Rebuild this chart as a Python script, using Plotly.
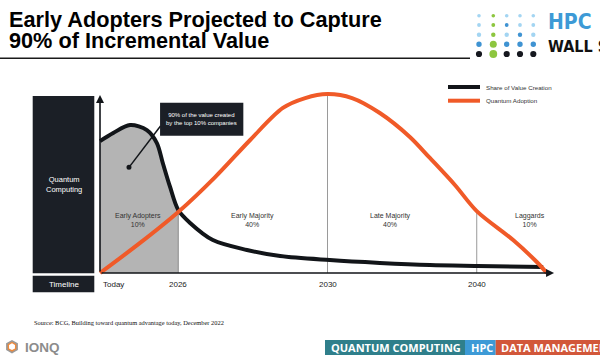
import plotly.graph_objects as go

# ---------------- data (abstract timeline units 0-100, value units 0-100) -------------
share_x = [0, 2.9, 6.6, 10.3, 12.5, 13.8, 15.4, 17.2, 19.8, 24.8, 32.3, 39.6, 50.5, 61.5, 72.5, 82.9, 97.4]
share_y = [73.3, 77.8, 82.2, 79.4, 72.2, 61.1, 47.8, 35.0, 27.8, 18.3, 12.8, 9.4, 7.2, 5.6, 4.4, 3.9, 3.3]

adopt_x = [0, 8.8, 17.2, 25.3, 33.0, 40.2, 45.1, 50.0, 55.4, 61.5, 68.1, 72.5, 78.0, 82.8, 90.8, 96.0, 98.2]
adopt_y = [0, 16.7, 33.9, 53.3, 73.9, 91.7, 97.2, 99.4, 97.2, 88.9, 75.6, 63.9, 48.9, 34.4, 18.3, 6.1, 0]

timeline_labels = ["Today", "2026", "2030", "2040"]
timeline_x = [0, 17.2, 50.0, 82.8]

phase_labels = ["Early Adopters<br>10%", "Early Majority<br>40%", "Late Majority<br>40%", "Laggards<br>10%"]
phase_label_x = [8.4, 33.6, 63.9, 94.5]
phase_label_y = 29.4

series_names = ["Share of Value Creation", "Quantum Adoption"]
callout_text = "90% of the value created<br>by the top 10% companies"

# ---------------- styling -------------
W, H = 600, 361
BLACK = "#121519"
ORANGE = "#f05a28"
GREY_FILL = "#b4b4b4"
DARK_BOX = "#1b1f26"
FONT = "Liberation Sans, Arial, sans-serif"


def px(x):
    return x / W


def py(y):
    return 1 - y / H


fig = go.Figure()

# grey fill under value curve (early adopters)
n_fill = share_x.index(17.2) + 1
fig.add_trace(go.Scatter(
    x=share_x[:n_fill], y=share_y[:n_fill], mode="lines",
    line=dict(width=0, shape="spline", color=GREY_FILL),
    fill="tozeroy", fillcolor=GREY_FILL, hoverinfo="skip", showlegend=False))

# phase boundary lines
for bx in timeline_x[1:]:
    if bx == 17.2:
        top = share_y[share_x.index(bx)]
        col = "#8a8a8a"
    else:
        top = adopt_y[adopt_x.index(bx)]
        col = "#9a9a9a"
    fig.add_trace(go.Scatter(x=[bx, bx], y=[0, top], mode="lines",
                             line=dict(color=col, width=1), hoverinfo="skip", showlegend=False))

fig.add_trace(go.Scatter(x=share_x, y=share_y, mode="lines", name=series_names[0],
                         line=dict(color=BLACK, width=4, shape="spline", smoothing=0.9),
                         showlegend=False))
fig.add_trace(go.Scatter(x=adopt_x, y=adopt_y, mode="lines", name=series_names[1],
                         line=dict(color=ORANGE, width=4, shape="spline", smoothing=0.9),
                         showlegend=False))

shapes = []
annotations = []

# title
annotations.append(dict(x=px(6.5), y=py(19.5), xref="paper", yref="paper", xanchor="left", yanchor="middle",
                        text="<b>Early Adopters Projected to Capture</b>", showarrow=False,
                        font=dict(family=FONT, size=21.7, color="#000")))
annotations.append(dict(x=px(6.5), y=py(40.5), xref="paper", yref="paper", xanchor="left", yanchor="middle",
                        text="<b>90% of Incremental Value</b>", showarrow=False,
                        font=dict(family=FONT, size=21.7, color="#000")))
shapes.append(dict(type="line", xref="paper", yref="paper", x0=0, x1=px(470), y0=py(58.3), y1=py(58.3),
                   line=dict(color="#1a1a1a", width=1.5)))

# HPC Wall Street logo
dot_cols = [479, 493.3, 506.7, 520, 533.3]
dot_rows = [15.7, 25, 34.7, 44.3, 54]
LB, GR, MB, BK = "#a3d5f2", "#8dc63f", "#3f93d2", "#16181f"
dot_colors = [
    [LB, GR, LB, LB, LB],
    [LB, GR, MB, LB, LB],
    [LB, GR, LB, MB, LB],
    [MB, GR, MB, MB, MB],
    [BK, GR, BK, BK, BK],
]
dot_sizes = [3.6, 3.8, 4.4, 5.4, 6.2]
for ri, ry in enumerate(dot_rows):
    for ci, cx in enumerate(dot_cols):
        r = dot_sizes[ri] / 2
        if ci == 1 and ri >= 3:
            r += 0.8
        shapes.append(dict(type="circle", xref="paper", yref="paper",
                           x0=px(cx - r), x1=px(cx + r), y0=py(ry + r), y1=py(ry - r),
                           fillcolor=dot_colors[ri][ci], line=dict(width=0)))
annotations.append(dict(x=px(546), y=py(22), xref="paper", yref="paper", xanchor="left", yanchor="middle",
                        text="<b>HPC</b>", showarrow=False,
                        font=dict(family="DejaVu Sans Condensed, DejaVu Sans", size=21, color="#3d9ad6")))
annotations.append(dict(x=px(546), y=py(47), xref="paper", yref="paper", xanchor="left", yanchor="middle",
                        text="<b>WALL ST</b>", showarrow=False,
                        font=dict(family="DejaVu Sans Condensed, DejaVu Sans", size=16, color="#111")))

# left label boxes
shapes.append(dict(type="rect", xref="paper", yref="paper", x0=px(32.7), x1=px(94.3), y0=py(273.3), y1=py(96),
                   fillcolor=DARK_BOX, line=dict(width=0)))
shapes.append(dict(type="rect", xref="paper", yref="paper", x0=px(32.7), x1=px(94.3), y0=py(292.3), y1=py(275.7),
                   fillcolor=DARK_BOX, line=dict(width=0)))
annotations.append(dict(x=px(63.5), y=py(184.5), xref="paper", yref="paper", text="Quantum<br>Computing",
                        xanchor="center", yanchor="middle",
                        showarrow=False, font=dict(family=FONT, size=7.5, color="#fff")))
annotations.append(dict(x=px(63.5), y=py(284), xref="paper", yref="paper", text="Timeline",
                        xanchor="center", yanchor="middle",
                        showarrow=False, font=dict(family=FONT, size=8, color="#fff")))

# axes arrows
annotations.append(dict(x=0, y=98.9, ax=0, ay=0, xref="x", yref="y", axref="x", ayref="y", text="",
                        showarrow=True, arrowhead=2, arrowsize=1, arrowwidth=1.6, arrowcolor=BLACK))
annotations.append(dict(x=99.8, y=0, ax=0, ay=0, xref="x", yref="y", axref="x", ayref="y", text="",
                        showarrow=True, arrowhead=2, arrowsize=1, arrowwidth=1.6, arrowcolor=BLACK))

# timeline labels
for lbl, tx in zip(timeline_labels, timeline_x):
    annotations.append(dict(x=tx, y=py(284.5), xref="x", yref="paper", text=lbl, showarrow=False,
                            xanchor="left" if lbl == "Today" else "center", yanchor="middle",
                            xshift=1 if lbl == "Today" else 0,
                            font=dict(family=FONT, size=8, color="#222")))

# phase labels
for lbl, lx in zip(phase_labels, phase_label_x):
    annotations.append(dict(x=lx, y=phase_label_y, xref="x", yref="y", text=lbl, showarrow=False,
                            xanchor="center", yanchor="middle",
                            font=dict(family=FONT, size=7, color="#333")))

# callout
shapes.append(dict(type="line", xref="x", yref="y", x0=6.37, y0=58.7, x1=13.3, y1=81.7,
                   line=dict(color=BLACK, width=1.5)))
shapes.append(dict(type="circle", xref="x", yref="y", x0=6.37 - 0.55, x1=6.37 + 0.55, y0=58.7 - 1.4,
                   y1=58.7 + 1.4, fillcolor=BLACK, line=dict(width=0)))
shapes.append(dict(type="rect", xref="x", yref="y", x0=13.2, x1=31.5, y0=76.3, y1=94.6,
                   fillcolor=DARK_BOX, line=dict(width=0)))
annotations.append(dict(x=22.35, y=85.4, xref="x", yref="y", text=callout_text, showarrow=False,
                        xanchor="center", yanchor="middle",
                        font=dict(family=FONT, size=6, color="#fff")))

# legend (manual)
leg_y = [87, 100.7]
leg_col = [BLACK, ORANGE]
for name, ly, lc in zip(series_names, leg_y, leg_col):
    shapes.append(dict(type="line", xref="paper", yref="paper", x0=px(448), x1=px(480), y0=py(ly), y1=py(ly),
                       line=dict(color=lc, width=4)))
    annotations.append(dict(x=px(484), y=py(ly), xref="paper", yref="paper", xanchor="left", yanchor="middle",
                            text=name, showarrow=False, font=dict(family=FONT, size=6.2, color="#333")))

# source
annotations.append(dict(x=px(31.5), y=py(322.3), xref="paper", yref="paper", xanchor="left", yanchor="middle",
                        text="Source: BCG, Building toward quantum advantage today, December 2022", showarrow=False,
                        font=dict(family="Liberation Serif, Times New Roman, serif", size=6.4, color="#111")))

# IONQ logo
hx, hy, hr = 12, 346.7, 6.8
def hexpath(cx, cy, r):
    pts = [(cx, cy - r), (cx + 0.87 * r, cy - 0.5 * r), (cx + 0.87 * r, cy + 0.5 * r),
           (cx, cy + r), (cx - 0.87 * r, cy + 0.5 * r), (cx - 0.87 * r, cy - 0.5 * r)]
    return "M " + " L ".join(f"{px(a):.5f},{py(b):.5f}" for a, b in pts) + " Z"
shapes.append(dict(type="path", xref="paper", yref="paper", path=hexpath(hx, hy, hr),
                   fillcolor="#9a9a9a", line=dict(width=0)))
shapes.append(dict(type="path", xref="paper", yref="paper", path=hexpath(hx, hy, hr - 1.8),
                   fillcolor="#ee8a3c", line=dict(width=0)))
shapes.append(dict(type="path", xref="paper", yref="paper", path=hexpath(hx, hy, hr - 3.4),
                   fillcolor="#ffffff", line=dict(width=0)))
annotations.append(dict(x=px(22.5), y=py(347), xref="paper", yref="paper", xanchor="left", yanchor="middle",
                        text="<b>IONQ</b>", showarrow=False,
                        font=dict(family=FONT, size=13.5, color="#8c8c8c")))

# bottom banner
banner = [("QUANTUM COMPUTING", 325, 465, "#2f7f8b"), ("HPC", 465, 495.7, "#3d9ad6"),
          ("DATA MANAGEMENT", 495.7, 680, "#d2573a")]
for txt, x0, x1, col in banner:
    shapes.append(dict(type="rect", xref="paper", yref="paper", x0=px(x0), x1=px(x1), y0=py(355), y1=py(340),
                       fillcolor=col, line=dict(width=0)))
    annotations.append(dict(x=px(x0 + 3.5), y=py(347.5), xref="paper", yref="paper", xanchor="left",
                            yanchor="middle", text=f"<b>{txt}</b>", showarrow=False,
                            font=dict(family="Open Sans, sans-serif", size=11, color="#fff")))

fig.update_layout(
    width=W, height=H, autosize=False,
    margin=dict(l=0, r=0, t=0, b=0),
    paper_bgcolor="#ffffff", plot_bgcolor="rgba(0,0,0,0)",
    xaxis=dict(domain=[90.9 / W, 564.1 / W], range=[-2, 102], visible=False, fixedrange=True),
    yaxis=dict(domain=[1 - 278.4 / H, 1 - 91.2 / H], range=[-3, 101], visible=False, fixedrange=True),
    shapes=shapes, annotations=annotations, showlegend=False,
)

fig.write_html("out.html", config={"displayModeBar": False},
               post_script="document.body.style.margin='0';document.body.style.overflow='hidden';")
